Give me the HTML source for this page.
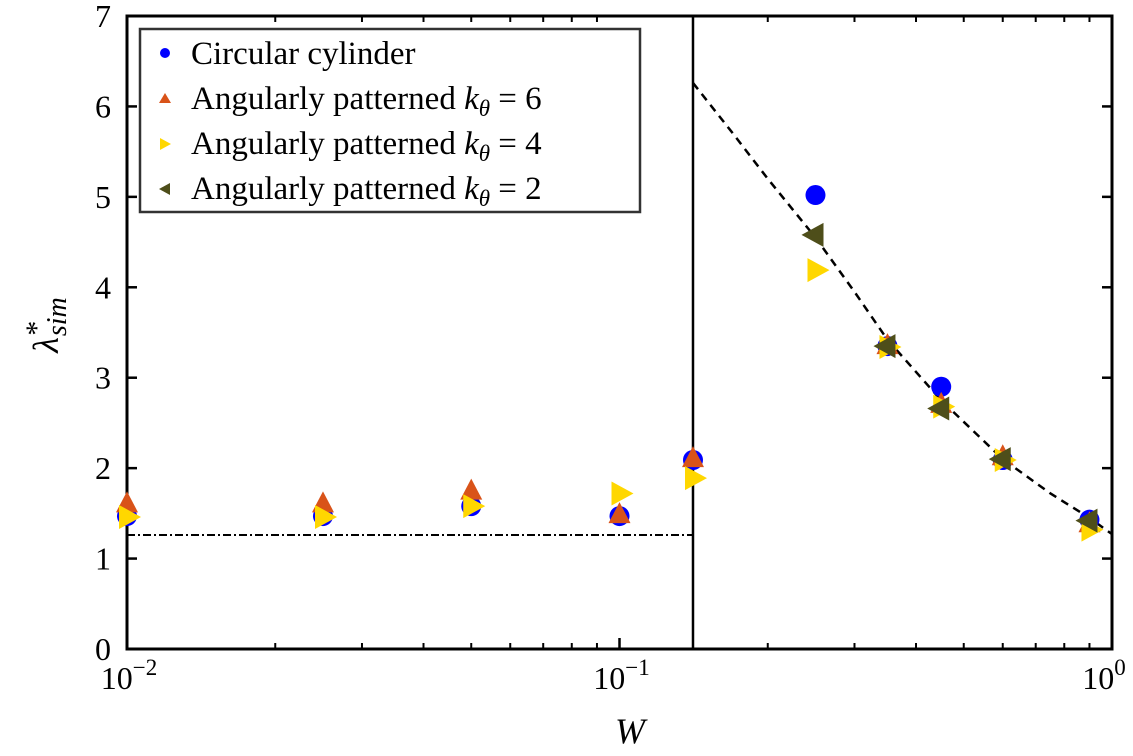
<!DOCTYPE html>
<html><head><meta charset="utf-8"><style>
html,body{margin:0;padding:0;background:#fff;}
svg{display:block;font-family:"Liberation Serif",serif;}
</style></head><body>
<svg id="chart" width="1133" height="756" viewBox="0 0 1133 756" xmlns="http://www.w3.org/2000/svg">
<g id="plot"></g>
<g id="axes"></g>
<g id="marks"></g>
<g>
<rect x="140" y="29" width="500" height="183" fill="#fff" stroke="#333" stroke-width="2.5"/>
<circle cx="165" cy="53" r="5" fill="#0000ff"/>
<text x="191" y="64" font-size="33">Circular cylinder</text>
<path d="M165,93 l6,10 h-12z" fill="#d95319"/>
<text x="191" y="109" font-size="33">Angularly patterned <tspan font-style="italic">k</tspan><tspan font-style="italic" font-size="23" dy="7">θ</tspan><tspan dy="-7"> = 6</tspan></text>
<path d="M160,138 l11,6 l-11,6z" fill="#ffd700"/>
<text x="191" y="154" font-size="33">Angularly patterned <tspan font-style="italic">k</tspan><tspan font-style="italic" font-size="23" dy="7">θ</tspan><tspan dy="-7"> = 4</tspan></text>
<path d="M170,183 l-11,6 l11,6z" fill="#4e4e1a"/>
<text x="191" y="199" font-size="33">Angularly patterned <tspan font-style="italic">k</tspan><tspan font-style="italic" font-size="23" dy="7">θ</tspan><tspan dy="-7"> = 2</tspan></text>
</g>
<text x="630" y="743" font-size="36" font-style="italic" text-anchor="middle">W</text>
<text transform="translate(58,325) rotate(-90)" font-size="36" font-style="italic" text-anchor="middle">λ<tspan font-size="30" dy="-12">*</tspan><tspan font-size="28" dx="-14" dy="20">sim</tspan></text>
</svg>
<script>
const catW = [0.01, 0.025, 0.05, 0.1, 0.141, 0.25, 0.35, 0.45, 0.6, 0.9];
const circleVals = [1.47, 1.47, 1.58, 1.47, 2.09, 5.02, 3.35, 2.90, 2.09, 1.43];
const k6Vals = [1.60, 1.60, 1.74, 1.48, 2.10, null, 3.35, 2.70, 2.12, 1.38];
const k4Vals = [1.46, 1.46, 1.58, 1.72, 1.89, 4.19, 3.34, 2.68, 2.09, 1.32];
const k2Vals = [null, null, null, null, null, 4.58, 3.35, 2.66, 2.10, 1.42];
const fitW = [0.141, 0.17, 0.2, 0.25, 0.3, 0.35, 0.45, 0.6, 0.75, 0.9, 1.0];
const fitVals = [6.26, 5.7, 5.2, 4.55, 3.95, 3.42, 2.75, 2.1, 1.72, 1.45, 1.27];
const baseW = [0.01, 0.141];
const baseVals = [1.26, 1.26];
const splitW = 0.141;
const yTicks = [0,1,2,3,4,5,6,7];
const xMajor = [-2,-1,0];
const xMajorLabels = ["10","10","10"];
const xMajorExp = ["−2","−1","0"];

const L=127,R=1112,T=16,B=649;
const xs = w => L + (Math.log10(w)+2)/2*(R-L);
const ys = v => B - v/7*(B-T);
const NS="http://www.w3.org/2000/svg";
function mk(tag, attrs, parent){const e=document.createElementNS(NS,tag);for(const k in attrs)e.setAttribute(k,attrs[k]);parent.appendChild(e);return e;}
const axes=document.getElementById('axes'), marks=document.getElementById('marks');

let p=mk('polyline',{points:fitW.map((w,i)=>xs(w)+','+ys(fitVals[i])).join(' '),fill:'none',stroke:'#000','stroke-width':2.5,'stroke-dasharray':'8,6'},axes);


p=mk('polyline',{points:baseW.map((w,i)=>xs(w)+','+ys(baseVals[i])).join(' '),fill:'none',stroke:'#000','stroke-width':2,'stroke-dasharray':'8,3,2,3'},axes);


p=mk('line',{x1:xs(splitW),x2:xs(splitW),y1:T,y2:B,stroke:'#000','stroke-width':2.5},axes);



p=mk('rect',{x:L,y:T,width:R-L,height:B-T,fill:'none',stroke:'#000','stroke-width':3},axes);


yTicks.forEach(v=>{
  const y=ys(v);
  let t=mk('line',{x1:L,x2:L+10,y1:y,y2:y,stroke:'#000','stroke-width':2.5},axes);
  
  
  t=mk('line',{x1:R-10,x2:R,y1:y,y2:y,stroke:'#000','stroke-width':2.5},axes);
  
  
  const tx=mk('text',{x:L-16,y:y+11,'font-size':32,'text-anchor':'end'},axes);
  tx.textContent=v;
  
  
});
for(let d=-2;d<0;d++){for(let m=2;m<=9;m++){
  const x=xs(m*Math.pow(10,d));
  let t=mk('line',{x1:x,x2:x,y1:B,y2:B-6,stroke:'#000','stroke-width':2},axes);
  
  
  t=mk('line',{x1:x,x2:x,y1:T,y2:T+6,stroke:'#000','stroke-width':2},axes);
  
  
}}
xMajor.forEach((e,i)=>{
  const x=xs(Math.pow(10,e));
  let t=mk('line',{x1:x,x2:x,y1:B,y2:B-11,stroke:'#000','stroke-width':2.5},axes);
  
  
  const tx=mk('text',{x:x-(i==2?8:-2),y:689,'font-size':32,'text-anchor':'middle'},axes);
  tx.innerHTML=xMajorLabels[i]+'<tspan font-size="23" dy="-14">'+xMajorExp[i]+'</tspan>';
  
  
});

function series(vals, kind, color, name){
  vals.forEach((v,i)=>{
    if(v===null)return;
    const x=xs(catW[i]), y=ys(v); let e;
    if(kind==='c') e=mk('circle',{cx:x,cy:y,r:10,fill:color},marks);
    else if(kind==='u') e=mk('path',{d:`M${x},${y-13} L${x+11},${y+8} L${x-11},${y+8}Z`,fill:color},marks);
    else if(kind==='r') e=mk('path',{d:`M${x-8},${y-12} L${x+14},${y} L${x-8},${y+12}Z`,fill:color},marks);
    else e=mk('path',{d:`M${x+8},${y-12} L${x-14},${y} L${x+8},${y+12}Z`,fill:color},marks);
    
    
  });
}
series(circleVals,'c','#0000ff','point-circular');
series(k6Vals,'u','#d95319','point-k6');
series(k4Vals,'r','#ffd700','point-k4');
series(k2Vals,'l','#4e4e1a','point-k2');
</script>
</body></html>
